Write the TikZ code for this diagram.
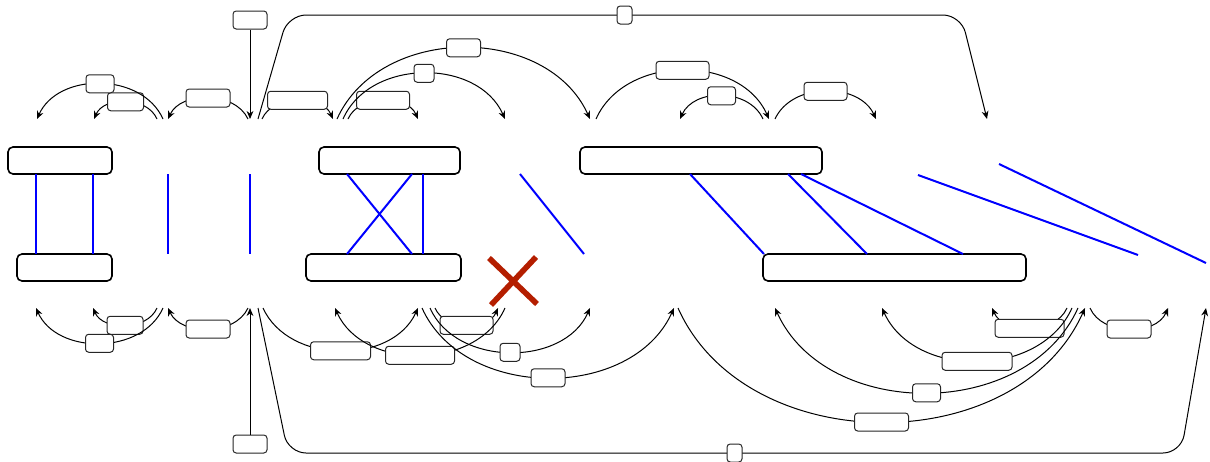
\documentclass[tikz,border=0pt]{standalone}
\usetikzlibrary{arrows.meta}
\definecolor{xred}{RGB}{180,30,0}
\tikzset{
  deparrow/.style={draw=black, line width=0.5pt, -{Stealth[length=4pt,width=3.4pt,inset=1.3pt]}},
  lbl/.style={draw=black!85, line width=0.5pt, fill=white, rounded corners=1.6pt, minimum height=9pt, inner sep=0pt},
  wordbox/.style={draw=black, line width=0.8pt, fill=white, rounded corners=2.5pt, minimum height=13.5pt, inner sep=0pt},
  alignline/.style={draw=blue, line width=1pt},
  crossline/.style={draw=xred, line width=2.8pt}
}
% #1 name, #2 x1, #3 x2, #4 baseline y, #5 slant at start, #6 slant at end, #7 height, #8 label width
\newcommand\deparc[8]{%
  \coordinate (#1s) at (#2,#4);
  \coordinate (#1e) at (#3,#4);
  \draw[deparrow] (#1s) .. controls +(#5,#7) and +(#6,#7) .. (#1e)
    node[lbl, minimum width=#8, pos=0.5] (#1l) {};
}
\newcommand\alignpair[3]{%
  \coordinate (#1a) at (#2);
  \coordinate (#1b) at (#3);
  \draw[alignline] (#1a) -- (#1b);
}
\begin{document}
\begin{tikzpicture}[x=0.5pt,y=-0.5pt]
\useasboundingbox (0,0) rectangle (1210,461);

% word boxes
\node[wordbox, minimum width=52pt]    (A) at (60,160.5) {};
\node[wordbox, minimum width=70.5pt]  (B) at (389.5,160.5) {};
\node[wordbox, minimum width=121pt]   (C) at (701,160.5) {};
\node[wordbox, minimum width=47.5pt]  (D) at (64.5,267.5) {};
\node[wordbox, minimum width=77.5pt]  (E) at (383.5,267.5) {};
\node[wordbox, minimum width=131.5pt] (F) at (894.5,267.5) {};

% alignment lines
\alignpair{la}{36,174}{36,254}
\alignpair{lb}{93,174}{93,254}
\alignpair{lc}{168,174}{168,254}
\alignpair{ld}{250,174}{250,254}
\alignpair{le}{347,174}{412,254}
\alignpair{lf}{412,174}{347,254}
\alignpair{lg}{423,174}{423,254}
\alignpair{lh}{520,174}{584,254}
\alignpair{li}{690,174}{764,254}
\alignpair{lj}{788,174}{867,254}
\alignpair{lk}{801,174}{963,254}
\alignpair{ll}{918,175}{1138,255}
\alignpair{lm}{999,164}{1206,263}

% red cross
\coordinate (crA) at (489,258);
\coordinate (crB) at (537,304);
\coordinate (crC) at (536,257);
\coordinate (crD) at (491,305);
\draw[crossline] (crA) -- (crB);
\draw[crossline] (crC) -- (crD);

% top root
\node[lbl, minimum width=17pt] (rt) at (250,20) {};
\coordinate (rtt) at (250,119);
\draw[deparrow] (rt) -- (rtt);

% top long edge
\coordinate (gts) at (258,119);
\coordinate (gte) at (987,119);
\draw[deparrow, rounded corners=9pt] (gts) -- (288,15) -- node[lbl, minimum width=7.5pt] (gtl) {} (961,15) -- (gte);

% top arcs
\deparc{ta}{157}{94}{119}{-10}{10}{-23}{18pt}
\deparc{tb}{163}{37}{119}{-21}{21}{-47}{14pt}
\deparc{tc}{248}{168}{119}{-13}{13}{-28}{22pt}
\deparc{td}{262}{333}{119}{11}{-11}{-25}{30pt}
\deparc{te}{348}{418}{119}{11}{-11}{-25}{26.5pt}
\deparc{tf}{343}{505}{119}{27}{-27}{-61}{10pt}
\deparc{tg}{337}{590}{119}{43}{-43}{-95}{17pt}
\deparc{th}{763}{680}{119}{-14}{14}{-31}{14pt}
\deparc{ti}{596}{769}{119}{29}{-29}{-65}{26.5pt}
\deparc{tj}{775}{876}{119}{17}{-17}{-37}{21.5pt}

% bottom root
\node[lbl, minimum width=17pt] (rb) at (250,444) {};
\coordinate (rbt) at (250,308);
\draw[deparrow] (rb) -- (rbt);

% bottom long edge
\coordinate (gbs) at (258,308);
\coordinate (gbe) at (1206,308);
\draw[deparrow, rounded corners=9pt] (gbs) -- (288,453) -- node[lbl, minimum width=7.5pt] (gbl) {} (1181,453) -- (gbe);

% bottom arcs
\deparc{ba}{157}{93}{308}{-10}{10}{23}{18pt}
\deparc{bb}{163}{36}{308}{-21}{21}{47}{14pt}
\deparc{bc}{248}{168}{308}{-13}{13}{28}{22pt}
\deparc{bd}{435}{498}{308}{10}{-10}{23}{26.5pt}
\deparc{be}{263}{418}{308}{26}{-26}{57}{30pt}
\deparc{bf}{430}{590}{308}{26}{-26}{59}{10pt}
\deparc{bg}{505}{335}{308}{-28}{28}{63}{34.5pt}
\deparc{bh}{422}{674}{308}{42}{-42}{93}{17pt}
\deparc{bi}{1090}{1168}{308}{12}{-12}{28}{22pt}
\deparc{bj}{1067}{992}{308}{-12}{12}{27}{34.5pt}
\deparc{bk}{1072}{882}{308}{-32}{32}{71}{35pt}
\deparc{bl}{1078}{775}{308}{-51}{51}{113}{14pt}
\deparc{bm}{678}{1085}{308}{68}{-68}{152}{27pt}

\end{tikzpicture}
\end{document}
